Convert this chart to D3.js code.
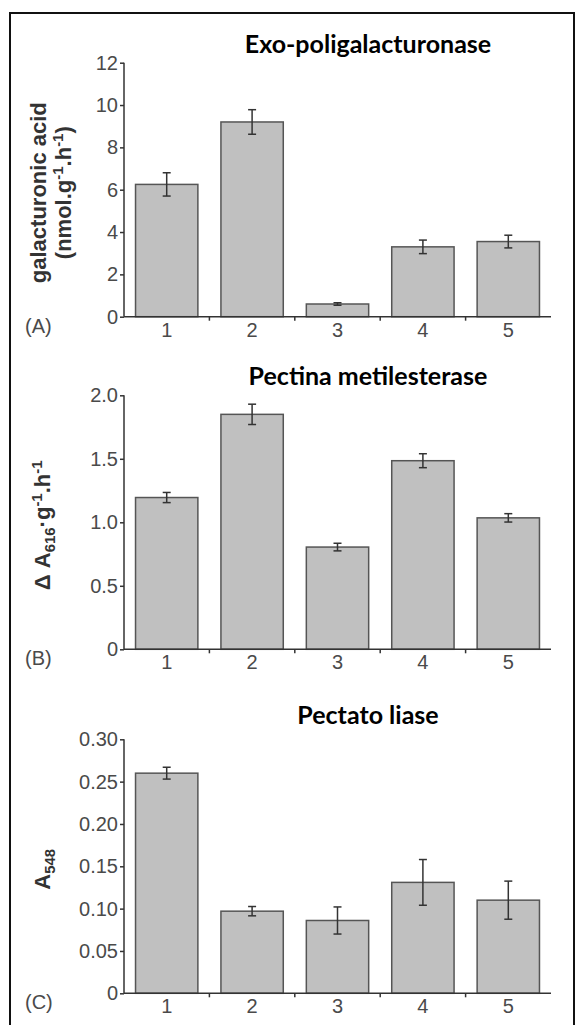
<!DOCTYPE html>
<html>
<head>
<meta charset="utf-8">
<script src="https://cdn.jsdelivr.net/npm/d3@7"></script>
<style>
  body { margin: 0; background: #fff; }
  svg { display: block; }
</style>
</head>
<body>
<svg id="chart" width="579" height="1025"></svg>
<script>
// ---- data ----
const groups = ["1", "2", "3", "4", "5"];

const exoPgMeans = [6.25, 9.2, 0.6, 3.3, 3.55];
const exoPgErr = [0.55, 0.58, 0.06, 0.32, 0.3];
const exoPgTicks = [0, 2, 4, 6, 8, 10, 12];

const pmeMeans = [1.195, 1.85, 0.805, 1.485, 1.035];
const pmeErr = [0.04, 0.08, 0.03, 0.055, 0.033];
const pmeTicks = [0, 0.5, 1.0, 1.5, 2.0];

const plMeans = [0.26, 0.097, 0.086, 0.131, 0.11];
const plErr = [0.007, 0.0055, 0.016, 0.027, 0.0225];
const plTicks = [0, 0.05, 0.1, 0.15, 0.2, 0.25, 0.3];

const titles = ["Exo-poligalacturonase", "Pectina metilesterase", "Pectato liase"];
const panelTags = ["(A)", "(B)", "(C)"];

const svg = d3.select("#chart");

// outer frame
svg.append("rect")
  .attr("x", 10).attr("y", 13)
  .attr("width", 564).attr("height", 1030)
  .attr("fill", "none").attr("stroke", "#111").attr("stroke-width", 2);

const axisColor = "#333";
const textColor = "#4a4a4a";
const tickFont = "'Liberation Sans', Arial, sans-serif";

// writes a label made of pieces, some raised or lowered
const richText = (sel, parts, size) => {
  let shift = 0;
  parts.forEach(p => {
    const target = p.s === "sup" ? -0.38 * size : p.s === "sub" ? 0.22 * size : 0;
    sel.append("tspan")
      .attr("dy", target - shift)
      .style("font-size", (p.s ? size * 0.68 : size) + "px")
      .text(p.t);
    shift = target;
  });
};

const drawPanel = (cfg) => {
  const x = d3.scaleBand().domain(groups).range([124, 551]).paddingInner(0.27).paddingOuter(0.135);
  const y = d3.scaleLinear().domain([0, cfg.max]).range([cfg.bottom, cfg.bottom - 254]);
  const g = svg.append("g");

  // bars
  g.selectAll(".bar")
    .data(cfg.means)
    .enter().append("rect")
      .attr("class", "bar")
      .attr("x", (d, i) => x(groups[i]))
      .attr("y", d => y(d))
      .attr("width", x.bandwidth())
      .attr("height", d => y(0) - y(d))
      .attr("fill", "#c0c0c0")
      .attr("stroke", "#555")
      .attr("stroke-width", 1.5);

  // error bars
  const eb = g.selectAll(".err")
    .data(cfg.means.map((m, i) => ({ m: m, e: cfg.err[i], k: groups[i] })))
    .enter().append("g").attr("class", "err")
      .attr("stroke", "#333").attr("stroke-width", 1.5);
  const cx = d => x(d.k) + x.bandwidth() / 2;
  eb.append("line")
    .attr("x1", cx).attr("x2", cx)
    .attr("y1", d => y(d.m + d.e)).attr("y2", d => y(d.m - d.e));
  eb.append("line")
    .attr("x1", d => cx(d) - 4).attr("x2", d => cx(d) + 4)
    .attr("y1", d => y(d.m + d.e)).attr("y2", d => y(d.m + d.e));
  eb.append("line")
    .attr("x1", d => cx(d) - 4).attr("x2", d => cx(d) + 4)
    .attr("y1", d => y(d.m - d.e)).attr("y2", d => y(d.m - d.e));

  // y axis
  const yAxis = g.append("g")
    .attr("transform", "translate(124,0)")
    .call(d3.axisLeft(y).tickValues(cfg.ticks).tickSize(4).tickPadding(2)
      .tickFormat(d => d === 0 ? "0" : d3.format(cfg.fmt)(d)));
  yAxis.attr("font-family", tickFont).attr("font-size", 20);
  yAxis.select(".domain").attr("stroke", axisColor).attr("stroke-width", 1.5)
    .attr("d", `M0,${y(cfg.max)}V${y(0)}`);
  yAxis.selectAll(".tick line").attr("stroke", axisColor).attr("stroke-width", 1.5);
  yAxis.selectAll(".tick text").attr("fill", textColor);

  // x axis
  const xAxis = g.append("g")
    .attr("transform", `translate(0,${y(0)})`)
    .call(d3.axisBottom(x).tickSize(0).tickPadding(6));
  xAxis.attr("font-family", tickFont).attr("font-size", 20);
  xAxis.select(".domain").attr("stroke", axisColor).attr("stroke-width", 1.5)
    .attr("d", "M124,0H551");
  xAxis.selectAll(".tick text").attr("fill", textColor);
  // small separators between categories
  xAxis.selectAll(".sep")
    .data(groups.slice(1))
    .enter().append("line")
      .attr("x1", d => x(d) - x.step() * x.paddingInner() / 2)
      .attr("x2", d => x(d) - x.step() * x.paddingInner() / 2)
      .attr("y1", 0).attr("y2", 4)
      .attr("stroke", axisColor).attr("stroke-width", 1.5);

  // panel tag
  g.append("text")
    .attr("x", 25).attr("y", y(0) + 16)
    .attr("font-family", tickFont).attr("font-size", 20)
    .attr("fill", textColor)
    .text(cfg.tag);

  // title
  g.append("text")
    .attr("x", 368).attr("y", cfg.titleY)
    .attr("text-anchor", "middle")
    .attr("font-family", "Lato, 'Open Sans', sans-serif")
    .attr("font-weight", "bold").attr("font-size", 25)
    .attr("fill", "#000")
    .text(cfg.title);

  // y label(s)
  cfg.ylabel.forEach(line => {
    const t = g.append("text")
      .attr("transform", `translate(${line.x},${cfg.bottom - 127 + 3}) rotate(-90)`)
      .attr("text-anchor", "middle")
      .attr("font-family", tickFont).attr("font-weight", "bold")
      .attr("fill", "#333");
    richText(t, line.parts, 22);
  });
};

drawPanel({
  means: exoPgMeans, err: exoPgErr, ticks: exoPgTicks, max: 12, fmt: "d",
  bottom: 316.7, titleY: 53, title: titles[0], tag: panelTags[0],
  ylabel: [
    { x: 46, parts: [{ t: "galacturonic acid" }] },
    { x: 71, parts: [{ t: "(nmol.g" }, { t: "-1", s: "sup" }, { t: ".h" }, { t: "-1", s: "sup" }, { t: ")" }] }
  ]
});

drawPanel({
  means: pmeMeans, err: pmeErr, ticks: pmeTicks, max: 2, fmt: ".1f",
  bottom: 649.3, titleY: 385, title: titles[1], tag: panelTags[1],
  ylabel: [
    { x: 50, parts: [{ t: "\u0394 A" }, { t: "616", s: "sub" }, { t: "\u00b7g" }, { t: "-1", s: "sup" }, { t: ".h" }, { t: "-1", s: "sup" }] }
  ]
});

drawPanel({
  means: plMeans, err: plErr, ticks: plTicks, max: 0.3, fmt: ".2f",
  bottom: 993.3, titleY: 724, title: titles[2], tag: panelTags[2],
  ylabel: [
    { x: 50, parts: [{ t: "A" }, { t: "548", s: "sub" }] }
  ]
});
</script>
</body>
</html>
